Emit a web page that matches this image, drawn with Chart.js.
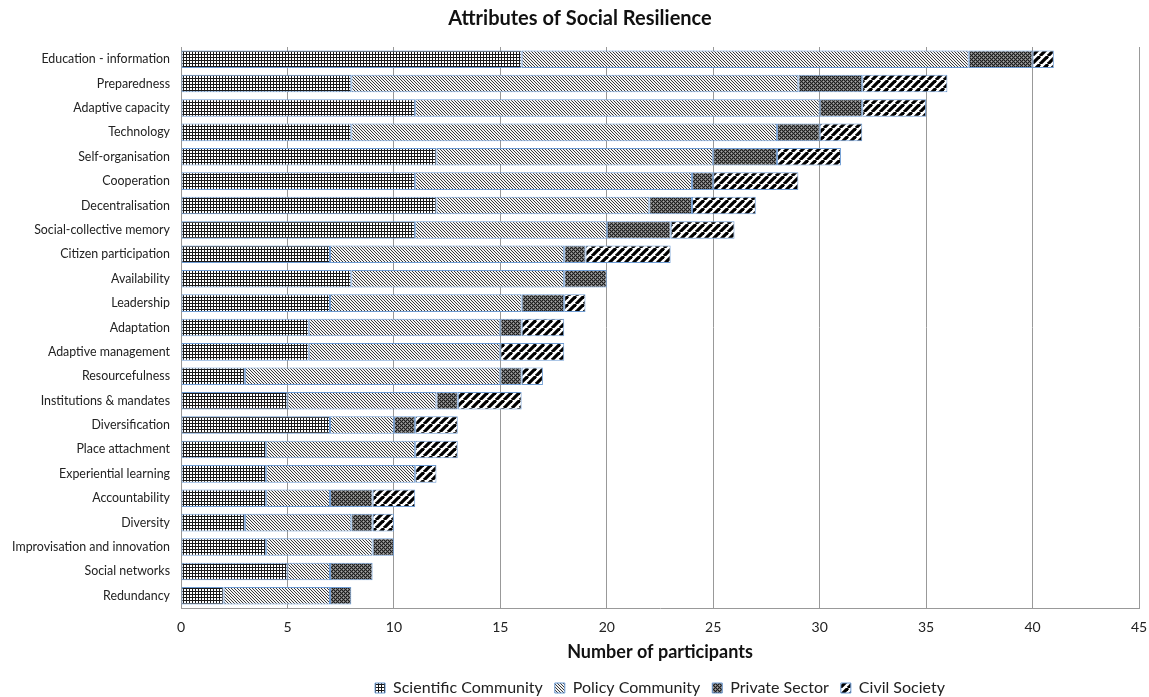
<!DOCTYPE html>
<html lang="en">

<head>
    <meta charset="UTF-8">
    <title>Attributes of Social Resilience</title>
    <script src="https://cdn.jsdelivr.net/npm/chart.js"></script>
    <style>
        body { margin: 0; background: #fff; }
    </style>
</head>

<body>
    <canvas id="canvas" width="1149" height="697"></canvas>
</body>

</html>
<script>
    const categories = ['Education - information', 'Preparedness', 'Adaptive capacity', 'Technology',
        'Self-organisation', 'Cooperation', 'Decentralisation', 'Social-collective memory',
        'Citizen participation', 'Availability', 'Leadership', 'Adaptation', 'Adaptive management',
        'Resourcefulness', 'Institutions & mandates', 'Diversification', 'Place attachment',
        'Experiential learning', 'Accountability', 'Diversity', 'Improvisation and innovation',
        'Social networks', 'Redundancy'];
    const scientific = [16, 8, 11, 8, 12, 11, 12, 11, 7, 8, 7, 6, 6, 3, 5, 7, 4, 4, 4, 3, 4, 5, 2];
    const policy = [21, 21, 19, 20, 13, 13, 10, 9, 11, 10, 9, 9, 9, 12, 7, 3, 7, 7, 3, 5, 5, 2, 5];
    const privateSector = [3, 3, 2, 2, 3, 1, 2, 3, 1, 2, 2, 1, 0, 1, 1, 1, 0, 0, 2, 1, 1, 2, 1];
    const civil = [1, 4, 3, 2, 3, 4, 3, 3, 4, 0, 1, 2, 3, 1, 3, 2, 2, 1, 2, 1, 0, 0, 0];
    const xTicks = [0, 5, 10, 15, 20, 25, 30, 35, 40, 45];

    // small tiles used as fill patterns
    function makePattern(size, draw) {
        const c = document.createElement('canvas');
        c.width = size;
        c.height = size;
        const g = c.getContext('2d');
        draw(g, size);
        return g.createPattern(c, 'repeat');
    }
    const ctx = document.getElementById('canvas').getContext('2d');

    const gridFill = makePattern(3, (g, s) => {
        g.fillStyle = '#fff'; g.fillRect(0, 0, s, s);
        g.fillStyle = '#1a1a1a'; g.fillRect(0, 0, s, 1); g.fillRect(0, 0, 1, s);
    });
    const diagFill = makePattern(3, (g, s) => {
        g.fillStyle = '#f4f4f4'; g.fillRect(0, 0, s, s);
        g.fillStyle = '#3a3a3a';
        for (let i = 0; i < s; i++) g.fillRect(i, i, 1, 1);
    });
    const dotFill = makePattern(4, (g, s) => {
        g.fillStyle = '#6a6a6a'; g.fillRect(0, 0, s, s);
        g.fillStyle = '#1e1e1e';
        g.fillRect(0, 0, 1, 1); g.fillRect(2, 0, 1, 1); g.fillRect(1, 1, 1, 1);
        g.fillRect(0, 2, 1, 1); g.fillRect(3, 3, 1, 1); g.fillRect(2, 2, 1, 1);
        g.fillStyle = '#a8a8a8';
        g.fillRect(3, 1, 1, 1); g.fillRect(1, 3, 1, 1);
    });
    const stripeFill = makePattern(8, (g, s) => {
        g.fillStyle = '#fff'; g.fillRect(0, 0, s, s);
        g.strokeStyle = '#000'; g.lineWidth = 3.2;
        for (let k = -1; k <= 1; k++) {
            g.beginPath();
            g.moveTo(k * s, s);
            g.lineTo(k * s + s, 0);
            g.stroke();
        }
    });

    const barBorder = '#6d9bd3';
    function series(label, data, fill) {
        return {
            label: label,
            data: data,
            backgroundColor: fill,
            borderColor: barBorder,
            borderWidth: 1,
            borderSkipped: false,
            barPercentage: 0.72,
            categoryPercentage: 1
        };
    }

    // legend centred under the plot area, title nudged right like the original
    const blockPlace = {
        id: 'blockPlace',
        afterLayout(chart) {
            const lg = chart.legend;
            lg.left = chart.chartArea.left;
            lg.right = chart.chartArea.right;
            lg.top = 668;
            lg.bottom = 697;
            chart.titleBlock.left = 11;
            chart.titleBlock.right = 1149;
        }
    };

    const chart = new Chart(ctx, {
        type: 'bar',
        data: {
            labels: categories,
            datasets: [
                series('Scientific Community', scientific, gridFill),
                series('Policy Community', policy, diagFill),
                series('Private Sector', privateSector, dotFill),
                series('Civil Society', civil, stripeFill)
            ]
        },
        plugins: [blockPlace],
        options: {
            indexAxis: 'y',
            responsive: false,
            animation: false,
            layout: { padding: { left: 0, right: 10, top: 7, bottom: 0 } },
            plugins: {
                title: {
                    display: true,
                    text: 'Attributes of Social Resilience',
                    color: '#111',
                    font: { family: 'Lato', size: 20, weight: 'bold' },
                    padding: { top: 0, bottom: 16 }
                },
                legend: {
                    position: 'bottom',
                    maxHeight: 27,
                    labels: {
                        color: '#222',
                        font: { family: 'Lato', size: 16 },
                        boxWidth: 10,
                        boxHeight: 10,
                        padding: 12
                    }
                },
                tooltip: { enabled: false }
            },
            scales: {
                x: {
                    stacked: true,
                    min: 0,
                    max: 45,
                    afterBuildTicks: (scale) => { scale.ticks = xTicks.map(v => ({ value: v })); },
                    afterFit: (scale) => {
                        scale.paddingRight = 10;
                        scale.paddingLeft = 0;
                        scale.height = 62;
                    },
                    grid: { color: '#999', drawTicks: false },
                    border: { color: '#999' },
                    ticks: {
                        color: '#222',
                        font: { family: 'Lato', size: 14 },
                        padding: 11
                    },
                    title: {
                        display: true,
                        text: 'Number of participants',
                        color: '#111',
                        font: { family: 'Lato', size: 18, weight: 'bold' },
                        padding: { top: 5, bottom: 7 }
                    }
                },
                y: {
                    stacked: true,
                    grid: { display: false, drawTicks: false },
                    border: { color: '#999' },
                    afterFit: (scale) => { scale.width = 181; },
                    ticks: {
                        color: '#222',
                        font: { family: 'Lato', size: 12.4 },
                        padding: 11,
                        autoSkip: false
                    }
                }
            }
        }
    });
</script>
